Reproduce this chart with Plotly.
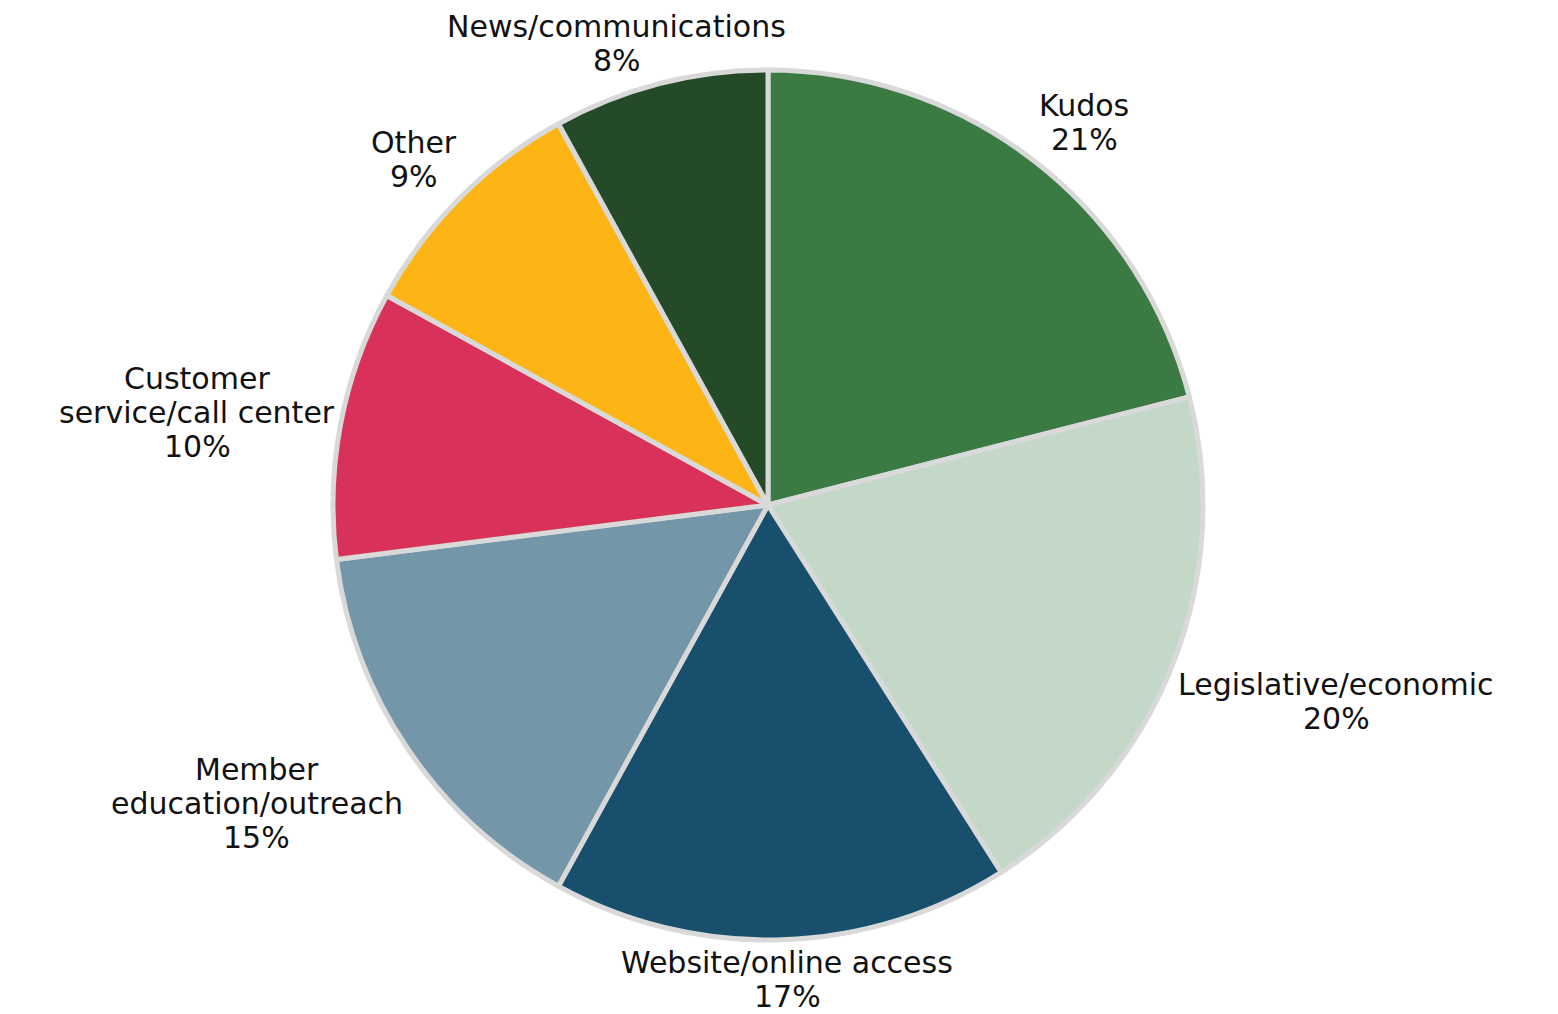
import math
import plotly.graph_objects as go

# Share of responses by topic (percent)
categories = [
    "Kudos",
    "Legislative/economic",
    "Website/online access",
    "Member<br>education/outreach",
    "Customer<br>service/call center",
    "Other",
    "News/communications",
]
shares = [21, 20, 17, 15, 10, 9, 8]
colors = ["#3b7a43", "#c4d8c8", "#174f6d", "#7396a8", "#d8325a", "#fdb515", "#244a28"]

W, H = 1558, 1014
CX, CY = 768, 505      # pie centre, px from top-left
RADIUS = 435           # pie radius, px
LABEL_GAP = 6          # distance from pie edge to label block, px
LINE_PITCH = 34        # distance between label lines, px
FONT_SIZE = 30
LABEL_FONT = dict(family="DejaVu Sans, sans-serif", size=FONT_SIZE, color="#111111")

# DejaVu Sans advance widths (em) used to centre the lines of a label block
ADVANCE = {
    " ": 0.318, "%": 0.950, "/": 0.337,
    "A": 0.684, "C": 0.698, "K": 0.656, "L": 0.557, "M": 0.863, "N": 0.748,
    "O": 0.787, "W": 0.989,
    "a": 0.613, "b": 0.635, "c": 0.550, "d": 0.635, "e": 0.615, "g": 0.635,
    "h": 0.634, "i": 0.278, "l": 0.278, "m": 0.974, "n": 0.634, "o": 0.612,
    "r": 0.411, "s": 0.521, "t": 0.392, "u": 0.634, "v": 0.592,
}


def text_width(s):
    return sum(ADVANCE.get(ch, 0.636) for ch in s) * FONT_SIZE


def side(v):
    # horizontal/vertical placement of a label block relative to its anchor point
    return v if abs(v) < 0.3 else math.copysign(1.0, v)


fig = go.Figure()

# invisible trace so the hidden cartesian axes (1 unit = 1 px, origin at pie centre) exist
fig.add_trace(go.Scatter(x=[], y=[], showlegend=False, hoverinfo="skip"))

fig.add_trace(
    go.Pie(
        labels=[c.replace("<br>", " ") for c in categories],
        values=shares,
        sort=False,
        direction="clockwise",
        rotation=0,
        domain=dict(
            x=[(CX - RADIUS) / W, (CX + RADIUS) / W],
            y=[(H - CY - RADIUS) / H, (H - CY + RADIUS) / H],
        ),
        marker=dict(colors=colors, line=dict(color="#d9d9d9", width=5)),
        textinfo="none",
        hoverinfo="label+percent",
        showlegend=False,
    )
)

# outside labels, placed beside the midpoint angle of each slice
total = sum(shares)
cum = 0.0
annotations = []
for cat, val in zip(categories, shares):
    mid = (cum + val / 2) / total * 2 * math.pi
    cum += val
    s, c = math.sin(mid), math.cos(mid)
    x0 = (RADIUS + LABEL_GAP) * s
    y0 = (RADIUS + LABEL_GAP) * c

    lines = cat.split("<br>") + [f"{val}%"]
    n = len(lines)
    block_w = max(text_width(t) for t in lines)
    block_h = n * LINE_PITCH
    xc = x0 + side(s) * block_w / 2
    yc = y0 + side(c) * block_h / 2
    for j, line in enumerate(lines):
        annotations.append(
            dict(
                x=xc,
                y=yc + (n - 1) / 2 * LINE_PITCH - j * LINE_PITCH,
                xref="x",
                yref="y",
                text=line,
                showarrow=False,
                xanchor="center",
                yanchor="middle",
                font=LABEL_FONT,
            )
        )

fig.update_layout(
    width=W,
    height=H,
    margin=dict(l=0, r=0, t=0, b=0),
    paper_bgcolor="white",
    plot_bgcolor="white",
    xaxis=dict(range=[-CX, W - CX], visible=False, fixedrange=True),
    yaxis=dict(range=[-(H - CY), CY], visible=False, fixedrange=True),
    annotations=annotations,
)

fig.write_html("out.html")
